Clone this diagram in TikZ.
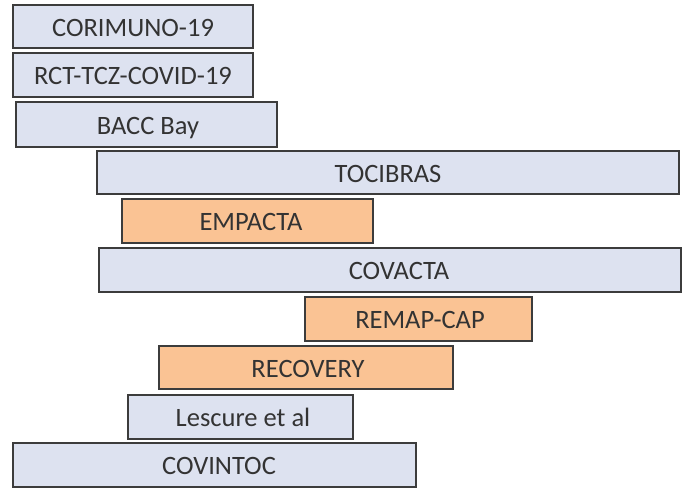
\documentclass[tikz,border=0pt]{standalone}
\usepackage{fontspec}
\setmainfont{Carlito}
\definecolor{barblue}{HTML}{DDE2F0}
\definecolor{barorange}{HTML}{FAC394}
\definecolor{barline}{HTML}{3C3C3C}
\definecolor{bartext}{HTML}{333333}
\tikzset{
  bar/.style={draw=barline, line width=2.2pt, inner sep=0pt},
  bluebar/.style={bar, fill=barblue},
  orangebar/.style={bar, fill=barorange},
  lbl/.style={anchor=base, inner sep=0pt, text=bartext, font=\fontsize{26.5}{30}\selectfont}
}
\newcommand{\barbox}[7]{% name, style, x1, y1, x2, y2, textx ; text given after
  \path[#2] (#3,#4) rectangle (#5,#6);
}
\begin{document}
\begin{tikzpicture}[x=1pt,y=-1pt]
\useasboundingbox (0,0) rectangle (683,490);
\fill[white] (0,0) rectangle (683,490);
% bars as nodes
\node[bluebar, minimum width=240pt, minimum height=43pt] (b1) at (133,26.5) {};
\node[bluebar, minimum width=240pt, minimum height=44pt] (b2) at (133,75) {};
\node[bluebar, minimum width=261pt, minimum height=45pt] (b3) at (146.5,124.5) {};
\node[bluebar, minimum width=582pt, minimum height=43pt] (b4) at (388,172.5) {};
\node[orangebar, minimum width=251pt, minimum height=44pt] (b5) at (247.5,221) {};
\node[bluebar, minimum width=582pt, minimum height=44pt] (b6) at (390,270) {};
\node[orangebar, minimum width=227pt, minimum height=44pt] (b7) at (418.5,319) {};
\node[orangebar, minimum width=294pt, minimum height=43pt] (b8) at (306,367.5) {};
\node[bluebar, minimum width=225pt, minimum height=44pt] (b9) at (240.5,417) {};
\node[bluebar, minimum width=403pt, minimum height=44pt] (b10) at (214.5,465) {};
% labels
\node[lbl] (t1) at (133,36) {CORIMUNO-19};
\node[lbl] (t2) at (133,84.5) {RCT-TCZ-COVID-19};
\node[lbl] (t3) at (148,134) {BACC Bay};
\node[lbl] (t4) at (388,182) {TOCIBRAS};
\node[lbl] (t5) at (251,230.5) {EMPACTA};
\node[lbl] (t6) at (399,279.5) {COVACTA};
\node[lbl] (t7) at (420,328.5) {REMAP-CAP};
\node[lbl] (t8) at (308,377) {RECOVERY};
\node[lbl] (t9) at (243,426.5) {Lescure et al};
\node[lbl] (t10) at (219,474.5) {COVINTOC};
\end{tikzpicture}
\end{document}
